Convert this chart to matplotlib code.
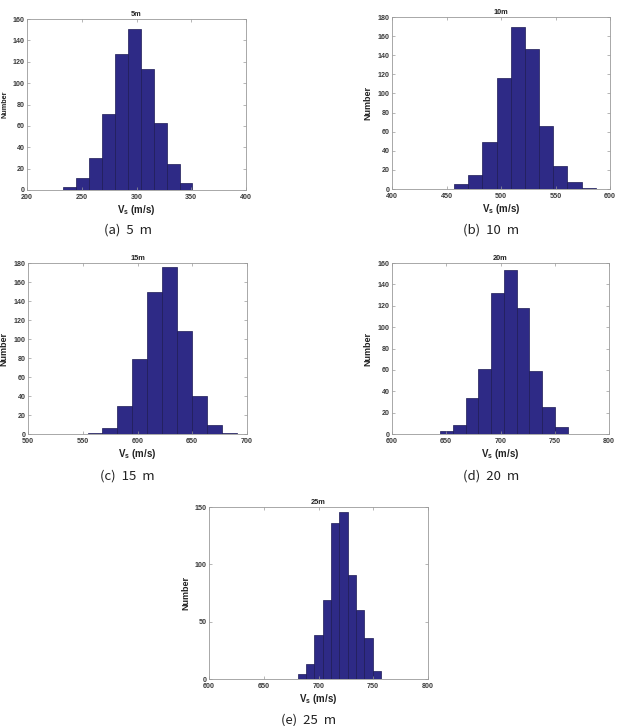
import numpy as np
import matplotlib
matplotlib.use("Agg")
import matplotlib.pyplot as plt

plt.rcParams["font.family"] = ["Liberation Sans", "DejaVu Sans"]
plt.rcParams["mathtext.fontset"] = "custom"
plt.rcParams["mathtext.rm"] = "Liberation Sans"
plt.rcParams["mathtext.bf"] = "Liberation Sans:bold"

# ---- data ----
titles = ["5m", "10m", "15m", "20m", "25m"]
captions = ["(a)  5  m", "(b)  10  m", "(c)  15  m", "(d)  20  m", "(e)  25  m"]

edges_a = [233.0, 244.8, 256.6, 268.4, 280.2, 292.0, 303.8, 315.6, 327.5, 339.3, 351.1]
counts_a = [3, 11, 30, 71, 127, 151, 113, 63, 24, 7]
edges_b = [457.0, 470.0, 483.0, 496.0, 509.0, 522.0, 535.0, 548.0, 561.0, 574.0, 587.0]
counts_b = [5, 15, 49, 116, 170, 147, 66, 24, 7, 1]
edges_c = [554.4, 568.0, 581.6, 595.2, 608.8, 622.5, 636.1, 649.7, 663.3, 676.9, 690.5]
counts_c = [1, 6, 30, 79, 149, 176, 108, 40, 10, 1]
edges_d = [644.2, 656.0, 667.8, 679.5, 691.3, 703.1, 714.9, 726.7, 738.4, 750.2, 762.0]
counts_d = [3, 8, 34, 61, 132, 153, 118, 59, 25, 7]
edges_e = [681.0, 688.6, 696.2, 703.8, 711.4, 719.1, 726.7, 734.3, 741.9, 749.5, 757.1]
counts_e = [4, 13, 38, 69, 136, 146, 91, 60, 36, 7]

xlims = [(200, 400), (400, 600), (500, 700), (600, 800), (600, 800)]
ylims = [(0, 160), (0, 180), (0, 180), (0, 160), (0, 150)]
yticks = [list(range(0, 161, 20)), list(range(0, 181, 20)), list(range(0, 181, 20)),
          list(range(0, 161, 20)), [0, 50, 100, 150]]

# ---- layout (pixels: left, top, right, bottom) ----
W, H = 617, 726
boxes = [(27, 19, 246, 190), (392, 17, 610, 189), (28, 263, 247, 434),
         (392, 263, 609, 434), (209, 507, 428, 679)]
cap_pos = [(128, 230), (491, 230), (127, 476), (491, 476), (309, 720)]
ylab_x = [8, 372, 8, 372, 190]
ylab_size = [5.2, 6.5, 6.5, 6.5, 6.5]

fig = plt.figure(figsize=(W / 100, H / 100), dpi=100)
bar_color = "#2E2A86"
edge_color = "#1c1a55"

data = [(edges_a, counts_a), (edges_b, counts_b), (edges_c, counts_c),
        (edges_d, counts_d), (edges_e, counts_e)]

for i, ((edges, counts), (l, t, r, b)) in enumerate(zip(data, boxes)):
    ax = fig.add_axes([l / W, 1 - b / H, (r - l) / W, (b - t) / H])
    e = np.array(edges)
    ax.bar(e[:-1], counts, width=np.diff(e), align="edge",
           color=bar_color, edgecolor=edge_color, linewidth=0.5)
    ax.set_xlim(*xlims[i])
    ax.set_ylim(*ylims[i])
    x0, x1 = xlims[i]
    ax.set_xticks(np.arange(x0, x1 + 1, 50))
    ax.set_yticks(yticks[i])
    ax.tick_params(direction="in", length=2, width=0.5, top=True, right=True,
                   labelsize=5.1, colors="#999999", labelcolor="#3a3a3a")
    ax.tick_params(axis="x", pad=3.2)
    ax.tick_params(axis="y", pad=1.5)
    for lab in ax.get_xticklabels() + ax.get_yticklabels():
        lab.set_fontweight("bold")
    for s in ax.spines.values():
        s.set_color("#9a9a9a")
        s.set_linewidth(0.6)
    ax.set_title(titles[i], fontsize=5.3, fontweight="bold", pad=2, color="#222222")
    ax.set_xlabel(r"V$_\mathbf{s}$ (m/s)", fontsize=7, fontweight="bold", labelpad=1,
                  color="#222222")
    ax.set_ylabel("Number", fontsize=ylab_size[i], fontweight="bold",
                  color="#222222")
    ax.yaxis.set_label_coords((ylab_x[i] - l) / (r - l), 0.5)
    cx, cy = cap_pos[i]
    fig.text(cx / W, 1 - cy / H, captions[i], ha="center", va="center",
             fontsize=9.5, family=["Noto Sans CJK KR", "DejaVu Sans"], color="#222222")

fig.savefig("out.png", dpi=100)
